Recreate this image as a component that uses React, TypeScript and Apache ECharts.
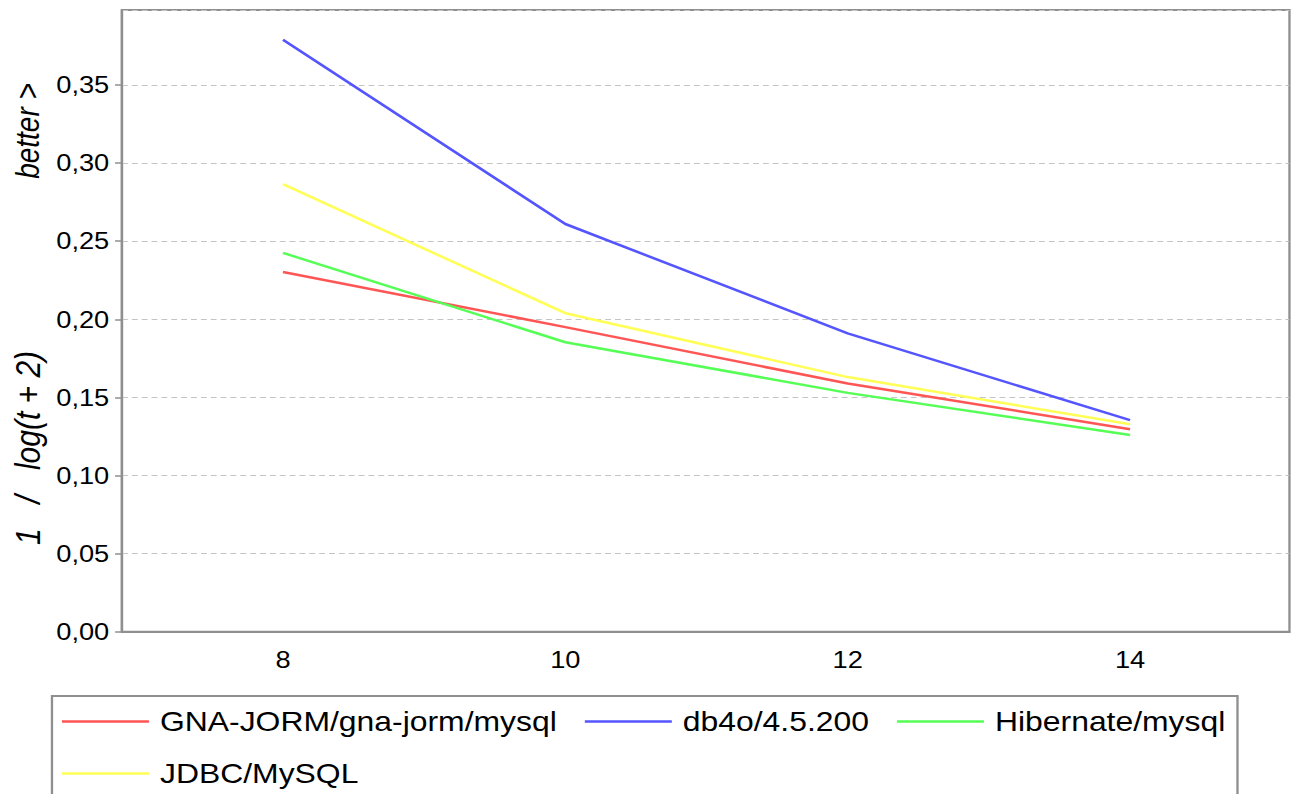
import React, { useEffect, useRef } from "react";
import * as echarts from "echarts";

const xValues = [8, 10, 12, 14];
const gnaJorm = [0.2303, 0.195, 0.1589, 0.1296];
const db4o = [0.379, 0.261, 0.191, 0.1354];
const hibernate = [0.2425, 0.1853, 0.1529, 0.1259];
const jdbc = [0.2865, 0.2039, 0.163, 0.1328];
const seriesNames = ["GNA-JORM/gna-jorm/mysql", "db4o/4.5.200", "Hibernate/mysql", "JDBC/MySQL"];
const seriesColors = ["#ff5555", "#5555ff", "#55ff55", "#ffff55"];
const yTitleTop = "better >";
const yTitleBottom = "1   /   log(t + 2)";

const SX = 1.16; // horizontal stretch of the reference rendering
const W = 1114;
const H = 794;
const FONT = "'Liberation Sans', Arial, sans-serif";
const GRAY = "#8f8f8f";

export default function App() {
  const ref = useRef<HTMLDivElement>(null);
  useEffect(() => {
    if (!ref.current) return;
    const chart = echarts.init(ref.current, null, { renderer: "svg", width: W, height: H });
    const allData = [gnaJorm, db4o, hibernate, jdbc];
    const option: any = {
      animation: false,
      backgroundColor: "#fff",
      grid: {
        left: 105.2,
        right: W - 1111.6,
        top: 10,
        bottom: H - 631.7,
        show: true,
        borderColor: GRAY,
        borderWidth: 2,
        backgroundColor: "transparent",
      },
      xAxis: {
        type: "value",
        min: 6.86,
        max: 15.129,
        axisLine: { show: true, lineStyle: { color: GRAY, width: 2 } },
        axisTick: { show: false },
        splitLine: { show: false },
        axisLabel: {
          customValues: xValues,
          margin: 16,
          fontSize: 23.5,
          color: "#000",
          fontFamily: FONT,
        },
      },
      yAxis: {
        type: "value",
        min: 0,
        max: 0.398,
        interval: 0.05,
        axisLine: { show: true, lineStyle: { color: GRAY, width: 2 } },
        axisTick: { show: true, length: 6, lineStyle: { color: GRAY, width: 1.5 } },
        splitLine: { show: true, lineStyle: { color: "#c4c4c4", width: 1, type: [5, 3.5] } },
        axisLabel: {
          margin: 11,
          fontSize: 23.5,
          color: "#000",
          fontFamily: FONT,
          showMaxLabel: false,
          formatter: (v: number) => v.toFixed(2).replace(".", ","),
        },
      },
      legend: {
        left: 53.4,
        top: 707.5,
        width: 1010,
        padding: 0,
        itemGap: 24,
        itemWidth: 75,
        itemHeight: 2.5,
        icon: "rect",
        textStyle: {
          fontSize: 27.5,
          lineHeight: 27,
          color: "#000",
          fontFamily: FONT,
          padding: [0, 0, 0, 4.5],
        },
        data: seriesNames,
      },
      graphic: [
        {
          type: "rect",
          shape: { x: 44.8, y: 696, width: 1022, height: 130 },
          style: { fill: "none", stroke: GRAY, lineWidth: 2 },
          silent: true,
        },
        {
          type: "text",
          x: 24,
          y: 131,
          rotation: Math.PI / 2,
          style: {
            text: yTitleTop,
            fontSize: 28,
            fontStyle: "italic",
            fontFamily: FONT,
            fill: "#000",
            align: "center",
            verticalAlign: "middle",
          },
        },
        {
          type: "text",
          x: 24,
          y: 448,
          rotation: Math.PI / 2,
          style: {
            text: yTitleBottom,
            fontSize: 30,
            fontStyle: "italic",
            fontFamily: FONT,
            fill: "#000",
            align: "center",
            verticalAlign: "middle",
          },
        },
      ],
      series: seriesNames.map((name, i) => ({
        name,
        type: "line",
        symbol: "none",
        color: seriesColors[i],
        lineStyle: { color: seriesColors[i], width: 2.5 },
        data: xValues.map((x, j) => [x, allData[i][j]]),
      })),
    };
    chart.setOption(option);
    return () => chart.dispose();
  }, []);
  return (
    <div
      ref={ref}
      style={{
        position: "fixed",
        left: 0,
        top: 0,
        width: W,
        height: H,
        background: "#fff",
        transform: `scaleX(${SX})`,
        transformOrigin: "0 0",
      }}
    />
  );
}
